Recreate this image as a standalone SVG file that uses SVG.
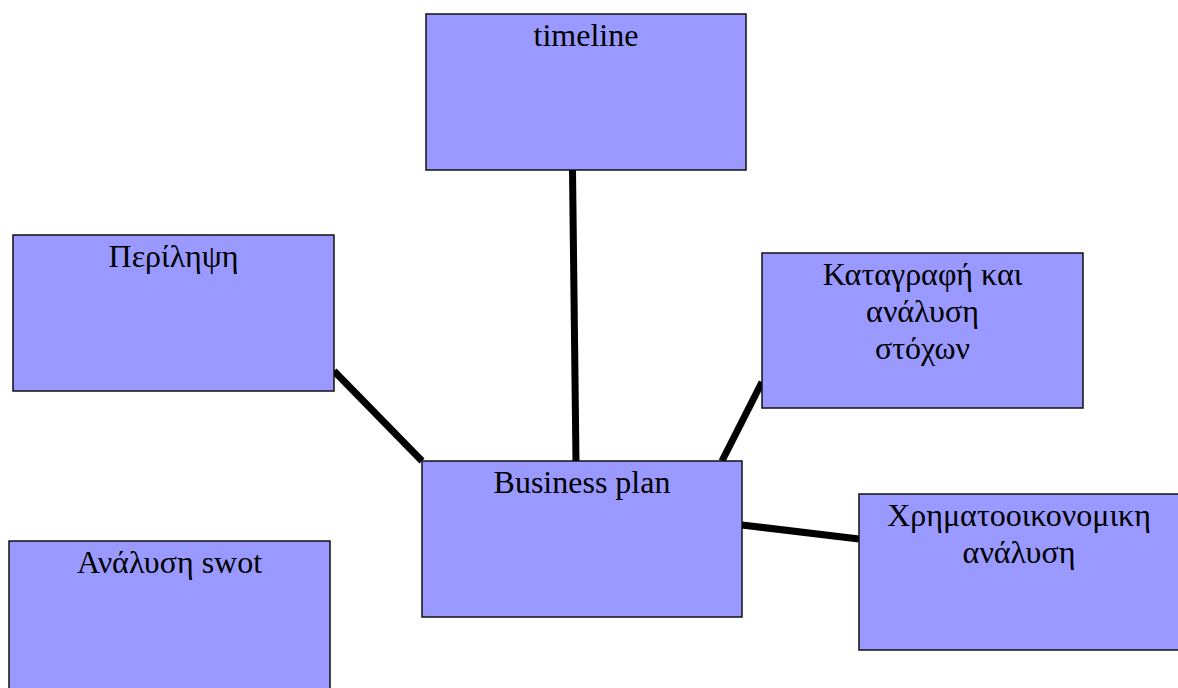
<svg xmlns="http://www.w3.org/2000/svg" width="1178" height="688" viewBox="0 0 1178 688">
<style>
.box{fill:#9999ff;stroke:#111;stroke-width:1.5}
.lbl{font-family:"Liberation Serif","Times New Roman",serif;font-size:32px;fill:#000;text-anchor:middle}
.con{stroke:#000;stroke-width:7;fill:none}
</style>
<rect width="1178" height="688" fill="#fff"/>
<g id="connectors">
<line class="con" x1="572.5" y1="170" x2="576" y2="462"/>
<line class="con" x1="334" y1="371" x2="422" y2="461"/>
<line class="con" x1="762" y1="382" x2="722" y2="461"/>
<line class="con" x1="742" y1="525" x2="859" y2="539"/>
</g>
<g id="timeline">
<rect class="box" x="426" y="14" width="320" height="156"/>
<text class="lbl" x="586" y="46">timeline</text>
</g>
<g id="perilipsi">
<rect class="box" x="13" y="235" width="321" height="156"/>
<text class="lbl" x="173.5" y="267">Περίληψη</text>
</g>
<g id="katagrafi">
<rect class="box" x="762" y="253" width="321" height="155"/>
<text class="lbl" x="922.5" y="285">Καταγραφή και</text>
<text class="lbl" x="922.5" y="322">ανάλυση</text>
<text class="lbl" x="922.5" y="359">στόχων</text>
</g>
<g id="business">
<rect class="box" x="422" y="461" width="320" height="156"/>
<text class="lbl" x="582" y="493">Business plan</text>
</g>
<g id="xrimatooikonomiki">
<rect class="box" x="859" y="494" width="320" height="156"/>
<text class="lbl" x="1019" y="526">Χρηματοοικονομικη</text>
<text class="lbl" x="1019" y="563">ανάλυση</text>
</g>
<g id="swot">
<rect class="box" x="9" y="541" width="321" height="156"/>
<text class="lbl" x="169.5" y="573">Ανάλυση swot</text>
</g>
</svg>
